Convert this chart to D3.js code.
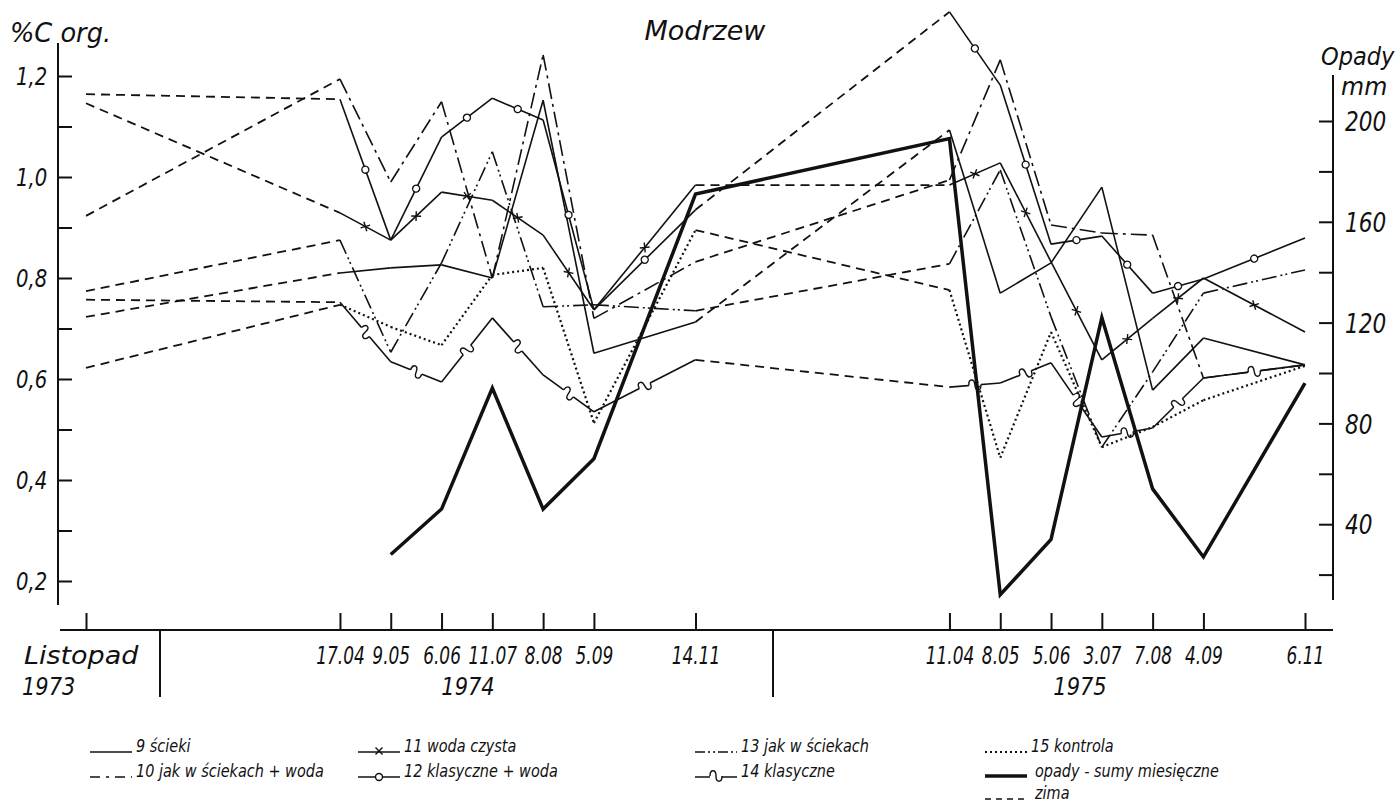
<!DOCTYPE html>
<html>
<head>
<meta charset="utf-8">
<script src="https://cdn.jsdelivr.net/npm/d3@7"></script>
<style>
  body { margin: 0; background: #fff; }
  svg text { font-family: "DejaVu Sans", "Liberation Sans", sans-serif; font-style: italic; fill: #111; }
</style>
</head>
<body>
<script>
// Sampling dates, positioned in months counted from November 1973
var months = [0, 5, 6, 7, 8, 9, 10, 12, 17, 18, 19, 20, 21, 22, 24];
var dateLabels = ['Listopad', '17.04', '9.05', '6.06', '11.07', '8.08', '5.09', '14.11',
                  '11.04', '8.05', '5.06', '3.07', '7.08', '4.09', '6.11'];
var yearLabels = ['1973', '1974', '1975'];

// %C org. for each treatment (9 - 15)
var s9  = [0.723, 0.810, 0.820, 0.826, 0.800, 1.152, 0.651, 0.713, 1.093, 0.770, 0.830, 0.980, 0.578, 0.681, 0.628];
var s10 = [0.923, 1.194, 0.990, 1.149, 0.800, 1.242, 0.720, 0.832, 0.994, 1.232, 0.905, 0.889, 0.885, 0.602, 0.628];
var s11 = [1.146, 0.929, 0.875, 0.970, 0.954, 0.885, 0.737, 0.984, 0.984, 1.028, 0.832, 0.638, 0.720, 0.800, 0.693];
var s12 = [1.164, 1.154, 0.875, 1.079, 1.156, 1.113, 0.737, 0.935, 1.327, 1.182, 0.867, 0.883, 0.770, 0.798, 0.879];
var s13 = [0.774, 0.875, 0.653, 0.830, 1.050, 0.743, 0.747, 0.735, 0.828, 1.014, 0.723, 0.465, 0.614, 0.770, 0.816];
var s14 = [0.757, 0.752, 0.634, 0.594, 0.721, 0.608, 0.535, 0.638, 0.584, 0.592, 0.632, 0.485, 0.503, 0.602, 0.628];
var s15 = [0.622, 0.747, 0.703, 0.667, 0.806, 0.820, 0.513, 0.895, 0.776, 0.444, 0.693, 0.465, 0.505, 0.558, 0.626];

// Monthly precipitation sums (mm)
var rainMonths = [6, 7, 8, 9, 10, 12, 17, 18, 19, 20, 21, 22, 24];
var rain = [28, 46, 94, 46, 66, 171, 193, 12, 34, 122, 54, 27, 96];

// segments (by start index) falling in winter, drawn dashed
var winterStarts = [0, 7];

var ink = '#111';

// Scales
var xScale = d3.scaleLinear().domain([0, 24]).range([86, 1305]),
    yLeft = d3.scaleLinear().domain([0.2, 1.2]).range([581, 76]),
    yRight = d3.scaleLinear().domain([0, 200]).range([625, 121]);

var svg = d3.select('body').append('svg')
    .attr('width', 1400)
    .attr('height', 805);

var series = [
  {values: s9,  dash: null,               mark: null, label: '9  ścieki'},
  {values: s10, dash: '16,5,3,5',         mark: null, label: '10 jak w ściekach + woda'},
  {values: s11, dash: null,               mark: 'x',  label: '11 woda czysta'},
  {values: s12, dash: null,               mark: 'o',  label: '12 klasyczne + woda'},
  {values: s13, dash: '15,4,2,3,2,4',     mark: null, label: '13 jak w ściekach'},
  {values: s14, dash: null,               mark: 's',  label: '14 klasyczne'},
  {values: s15, dash: '2,3',              mark: null, label: '15 kontrola'}
];

function drawMark(g, type, x, y, ang) {
  var m = g.append('g').attr('transform', 'translate(' + x + ',' + y + ') rotate(' + ang + ')');
  if (type === 'x') {
    m.append('path').attr('d', 'M-3.5,-3.5L3.5,3.5M-3.5,3.5L3.5,-3.5')
      .attr('stroke', ink).attr('stroke-width', 1.4);
  } else if (type === 'o') {
    m.append('circle').attr('r', 3.5).attr('fill', '#fff')
      .attr('stroke', ink).attr('stroke-width', 1.4);
  } else if (type === 's') {
    m.append('rect').attr('x', -6).attr('y', -3).attr('width', 12).attr('height', 6).attr('fill', '#fff');
    m.append('path').attr('d', 'M-6,0 C-6,-7 0,-7 0,0 C0,7 6,7 6,0')
      .attr('fill', 'none').attr('stroke', ink).attr('stroke-width', 1.4);
  }
}

var seg = d3.line()
    .x(function(d) { return xScale(d[0]); })
    .y(function(d) { return yLeft(d[1]); });

// Draw each treatment segment by segment
series.forEach(function(s) {
  var g = svg.append('g');
  for (var i = 0; i < months.length - 1; i++) {
    var pts = [[months[i], s.values[i]], [months[i + 1], s.values[i + 1]]];
    var winter = winterStarts.indexOf(i) >= 0;
    g.append('path')
      .attr('d', seg(pts))
      .attr('fill', 'none')
      .attr('stroke', ink)
      .attr('stroke-width', winter ? 1.8 : (s.dash === '2,3' ? 2.2 : 1.6))
      .attr('stroke-dasharray', winter ? '9,6' : s.dash);
    if (!winter && s.mark) {
      var x0 = xScale(pts[0][0]), y0 = yLeft(pts[0][1]),
          x1 = xScale(pts[1][0]), y1 = yLeft(pts[1][1]);
      var ang = Math.atan2(y1 - y0, x1 - x0) * 180 / Math.PI;
      drawMark(g, s.mark, (x0 + x1) / 2, (y0 + y1) / 2, ang);
    }
  }
});

// Precipitation line (right axis)
var rainLine = d3.line()
    .x(function(d, i) { return xScale(rainMonths[i]); })
    .y(function(d) { return yRight(d); });

svg.append('path')
   .attr('d', rainLine(rain))
   .attr('fill', 'none')
   .attr('stroke', ink)
   .attr('stroke-width', 3.5)
   .attr('stroke-linejoin', 'miter');

// Left axis
var gL = svg.append('g')
    .attr('transform', 'translate(58,0)')
    .call(d3.axisLeft(yLeft)
        .tickValues(d3.range(2, 13).map(function(d) { return d / 10; }))
        .tickSizeInner(-14).tickSizeOuter(0).tickPadding(10)
        .tickFormat(function(d) {
          return Math.round(d * 10) % 2 === 0 ? d3.format('.1f')(d).replace('.', ',') : '';
        }));
gL.select('.domain').remove();
gL.attr('font-size', null).attr('font-family', null);
gL.selectAll('line').attr('stroke', ink).attr('stroke-width', 2);
gL.selectAll('text').attr('font-size', 24).attr('x', -13).attr('dy', '0.36em')
  .attr('transform', 'scale(0.82,1)');
svg.append('line').attr('x1', 58).attr('x2', 58).attr('y1', 43).attr('y2', 605)
   .attr('stroke', ink).attr('stroke-width', 2);

// Right axis
var gR = svg.append('g')
    .attr('transform', 'translate(1333,0)')
    .call(d3.axisRight(yRight)
        .tickValues(d3.range(20, 201, 20))
        .tickSizeInner(-14).tickSizeOuter(0).tickPadding(12)
        .tickFormat(function(d) { return d % 40 === 0 ? d : ''; }));
gR.select('.domain').remove();
gR.attr('font-size', null).attr('font-family', null);
gR.selectAll('line').attr('stroke', ink).attr('stroke-width', 2);
gR.selectAll('text').attr('font-size', 27).attr('dy', '0.36em')
  .attr('transform', 'scale(0.8,1)').attr('x', 15);
svg.append('line').attr('x1', 1333).attr('x2', 1333).attr('y1', 75).attr('y2', 600)
   .attr('stroke', ink).attr('stroke-width', 2);

// Bottom axis
var gB = svg.append('g')
    .attr('transform', 'translate(0,630)')
    .call(d3.axisBottom(xScale)
        .tickValues(months)
        .tickSizeInner(-17).tickSizeOuter(0)
        .tickFormat(function(d, i) { return dateLabels[i]; }));
gB.select('.domain').remove();
gB.attr('font-size', null).attr('font-family', null);
gB.selectAll('line').attr('stroke', ink).attr('stroke-width', 2);
gB.selectAll('text')
  .attr('font-size', 25)
  .attr('y', 34).attr('dy', null)
  .attr('x', function(d, i) { return i === 0 ? -5 : 0; })
  .attr('transform', function(d, i) { return i === 0 ? 'scale(1.08,1)' : 'scale(0.68,1)'; });
svg.append('line').attr('x1', 60).attr('x2', 1333).attr('y1', 630).attr('y2', 630)
   .attr('stroke', ink).attr('stroke-width', 2);

// Year separators and year labels
[160, 773].forEach(function(x) {
  svg.append('line').attr('x1', x).attr('x2', x).attr('y1', 630).attr('y2', 697)
     .attr('stroke', ink).attr('stroke-width', 2);
});
var yearPos = [[22, 'start'], [468, 'middle'], [1080, 'middle']];
yearLabels.forEach(function(t, i) {
  svg.append('text')
     .attr('transform', 'translate(' + yearPos[i][0] + ',695) scale(0.84,1)')
     .attr('text-anchor', yearPos[i][1])
     .attr('font-size', 25)
     .text(t);
});

// Titles
svg.append('text').attr('x', 705).attr('y', 40).attr('text-anchor', 'middle')
   .attr('font-size', 27).text('Modrzew');
svg.append('text').attr('transform', 'translate(10,42) scale(0.95,1)')
   .attr('font-size', 27).text('%C org.');
svg.append('text').attr('transform', 'translate(1321,65) scale(0.9,1)')
   .attr('font-size', 25).text('Opady');
svg.append('text').attr('transform', 'translate(1341,95) scale(0.95,1)')
   .attr('font-size', 25).text('mm');

// Legend
var legendPos = [[90, 752], [90, 777], [358, 752], [358, 777], [695, 752], [695, 777], [985, 752]];
var lg = svg.append('g');
series.forEach(function(s, i) {
  var x = legendPos[i][0], y = legendPos[i][1];
  lg.append('line').attr('x1', x).attr('x2', x + 42).attr('y1', y).attr('y2', y)
    .attr('stroke', ink).attr('stroke-width', s.dash === '2,3' ? 2.2 : 1.6)
    .attr('stroke-dasharray', s.dash === '16,5,3,5' ? '10,6,3,6' : s.dash === '15,4,2,3,2,4' ? '10,3,2,3,2,3' : s.dash);
  if (s.mark) drawMark(lg, s.mark, x + 21, y - (s.mark === 'o' ? 0 : 1), 0);
  lg.append('text').attr('transform', 'translate(' + (x + 46) + ',' + y + ') scale(0.85,1)')
    .attr('font-size', 17).text(s.label);
});
lg.append('line').attr('x1', 985).attr('x2', 1027).attr('y1', 776).attr('y2', 776)
  .attr('stroke', ink).attr('stroke-width', 3.5);
lg.append('text').attr('transform', 'translate(1035,777) scale(0.85,1)')
  .attr('font-size', 17).text('opady - sumy miesięczne');
lg.append('line').attr('x1', 985).attr('x2', 1027).attr('y1', 799).attr('y2', 799)
  .attr('stroke', ink).attr('stroke-width', 1.6).attr('stroke-dasharray', '6,5');
lg.append('text').attr('transform', 'translate(1035,799) scale(0.85,1)')
  .attr('font-size', 17).text('zima');
</script>
</body>
</html>
